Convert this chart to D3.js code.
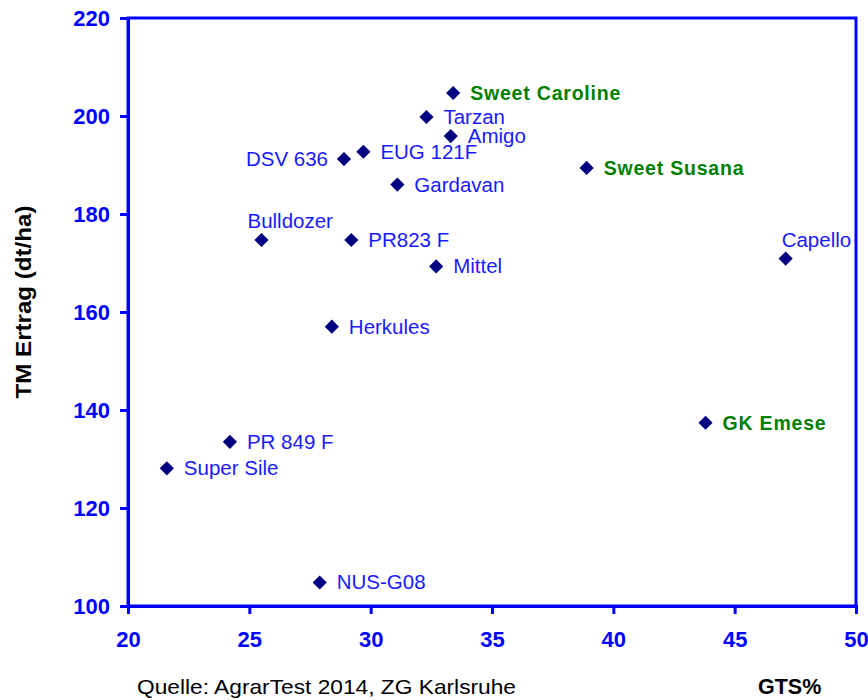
<!DOCTYPE html>
<html>
<head>
<meta charset="utf-8">
<script src="https://cdn.jsdelivr.net/npm/d3@7"></script>
<style>
  body { margin: 0; background: #fff; }
  svg { display: block; font-family: "Liberation Sans", Arial, sans-serif; }
</style>
</head>
<body>
<div class="chart"></div>
<script>
// sorten, GTS% (x) und TM Ertrag (y)
const sorten = ["Sweet Caroline", "Tarzan", "Amigo", "EUG 121F", "DSV 636", "Gardavan",
  "Sweet Susana", "Bulldozer", "PR823 F", "Mittel", "Capello", "Herkules",
  "GK Emese", "PR 849 F", "Super Sile", "NUS-G08"];
const gts = [33.4, 32.3, 33.3, 29.7, 28.9, 31.1, 38.9, 25.5, 29.2, 32.7, 47.1, 28.4,
  43.8, 24.2, 21.6, 27.9];
const ertrag = [204.7, 199.8, 195.9, 192.7, 191.2, 186.0, 189.4, 174.7, 174.7, 169.3,
  170.9, 157.0, 137.4, 133.5, 128.1, 104.8];
const zuckermais = ["Sweet Caroline", "Sweet Susana", "GK Emese"];
const xTicks = [20, 25, 30, 35, 40, 45, 50];
const yTicks = [100, 120, 140, 160, 180, 200, 220];

const width = 868, height = 700;
const margin = { top: 18, right: 12, bottom: 94, left: 128 };
const w = width - margin.left - margin.right,
  h = height - margin.top - margin.bottom;

const svg = d3.select(".chart").append("svg")
  .attr("width", width)
  .attr("height", height);

const g = svg.append("g")
  .attr("transform", "translate(" + margin.left + "," + margin.top + ")");

const xScale = d3.scaleLinear().domain([20, 50]).range([0, w]);
const yScale = d3.scaleLinear().domain([100, 220]).range([h, 0]);

const blue = "#0000ff";

// frame
g.append("rect")
  .attr("x", 0).attr("y", 0)
  .attr("width", w).attr("height", h)
  .attr("fill", "none")
  .attr("stroke", blue)
  .attr("stroke-width", 3);

const xAxis = g.append("g")
  .attr("class", "x-axis")
  .attr("transform", `translate(0, ${h})`)
  .call(d3.axisBottom(xScale).tickValues(xTicks).tickSize(8).tickPadding(17));

const yAxis = g.append("g")
  .attr("class", "y-axis")
  .call(d3.axisLeft(yScale).tickValues(yTicks).tickSize(8).tickPadding(10));

[xAxis, yAxis].forEach(ax => {
  ax.select(".domain").attr("stroke", blue).attr("stroke-width", 3);
  ax.selectAll(".tick line").attr("stroke", blue).attr("stroke-width", 3);
  ax.selectAll(".tick text")
    .attr("fill", blue)
    .attr("font-size", "22px")
    .attr("font-weight", "bold")
    .attr("font-family", "Liberation Sans, Arial, sans-serif");
});

const data = sorten.map((s, i) => ({ name: s, x: gts[i], y: ertrag[i] }));

// marker
g.selectAll("path.pt")
  .data(data)
  .join("path")
  .attr("class", "pt")
  .attr("d", d3.symbol().type(d3.symbolDiamond2).size(128))
  .attr("transform", d => `translate(${xScale(d.x)},${yScale(d.y)})`)
  .attr("fill", "#000080");

// label placement
const placeLeft = ["DSV 636"];
const placeAbove = ["Bulldozer", "Capello"];

g.selectAll("text.lbl")
  .data(data)
  .join("text")
  .attr("class", "lbl")
  .attr("x", d => {
    if (placeLeft.includes(d.name)) return xScale(d.x) - 16;
    if (placeAbove.includes(d.name)) return xScale(d.x) - 14 + (d.name === "Capello" ? 10 : 0);
    return xScale(d.x) + 17;
  })
  .attr("y", d => placeAbove.includes(d.name) ? yScale(d.y) - 12 : yScale(d.y) + 7)
  .attr("text-anchor", d => placeLeft.includes(d.name) ? "end" : "start")
  .attr("font-size", d => zuckermais.includes(d.name) ? "19.5px" : "20.5px")
  .attr("font-weight", d => zuckermais.includes(d.name) ? "bold" : "normal")
  .attr("letter-spacing", d => zuckermais.includes(d.name) ? "0.8px" : "0px")
  .attr("fill", d => zuckermais.includes(d.name) ? "#008000" : "#1a1aff")
  .text(d => d.name);

// axis titles
svg.append("text")
  .attr("transform", "translate(31,302) rotate(-90)")
  .attr("text-anchor", "middle")
  .attr("font-size", "22px")
  .attr("font-weight", "bold")
  .attr("fill", "#000")
  .attr("textLength", 193)
  .attr("lengthAdjust", "spacingAndGlyphs")
  .text("TM Ertrag (dt/ha)");

svg.append("text")
  .attr("x", 758)
  .attr("y", 694)
  .attr("font-size", "21.5px")
  .attr("font-weight", "bold")
  .attr("fill", "#000")
  .text("GTS%");

svg.append("text")
  .attr("x", 137)
  .attr("y", 694)
  .attr("font-size", "21px")
  .attr("fill", "#000")
  .attr("textLength", 379)
  .attr("lengthAdjust", "spacingAndGlyphs")
  .text("Quelle: AgrarTest 2014, ZG Karlsruhe");
</script>
</body>
</html>
